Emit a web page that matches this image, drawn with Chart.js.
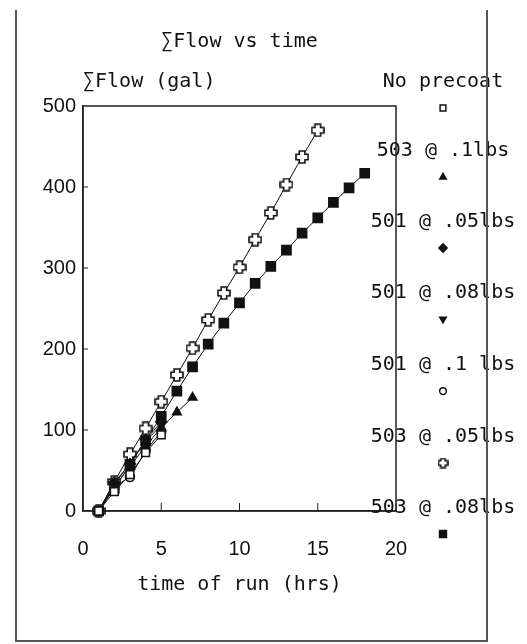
<!DOCTYPE html>
<html>
<head>
<meta charset="utf-8">
<script src="https://cdn.jsdelivr.net/npm/chart.js@4.4.0/dist/chart.umd.min.js"></script>
<style>
  body { margin: 0; background: #fff; }
  #wrap { position: relative; width: 527px; height: 644px; }
  #frame { position: absolute; left: 15px; top: 10px; width: 469px; height: 630px;
           border: 2px solid #555; border-top: none; pointer-events: none; }
</style>
</head>
<body>
<div id="wrap">
  <canvas id="flowChart" width="527" height="644"></canvas>
  <div id="frame"></div>
</div>
<script>
// hours of run, one value per reading
const hours = [1, 2, 3, 4, 5, 6, 7, 8, 9, 10, 11, 12, 13, 14, 15, 16, 17, 18];

const seriesLabels = ["No precoat", "503 @ .1lbs", "501 @ .05lbs", "501 @ .08lbs",
                      "501 @ .1 lbs", "503 @ .05lbs", "503 @ .08lbs"];

// cumulative flow (gal)
const noPrecoat = [0, 24, 45, 72, 94];
const p503at10 = [0, 30, 55, 80, 103, 122, 140];
const p501at05 = [0, 35, 58, 88, 110];
const p501at08 = [0, 32, 60, 86, 106];
const p501at10 = [0, 30, 42, 74, 98];
const p503at05 = [0, 36, 70, 102, 135, 168, 201, 236, 269, 301, 335, 368, 403, 437, 470];
const p503at08 = [0, 28, 57, 87, 117, 148, 178, 206, 232, 257, 281, 302, 322, 343, 362, 381, 399, 417];

const xTicks = [0, 5, 10, 15, 20];
const yTicks = [0, 100, 200, 300, 400, 500];

const monoFont = '"DejaVu Sans Mono", monospace';
const sansFont = '"Liberation Sans", Arial, sans-serif';

// hollow plus marker, drawn once on a small canvas
function makeHollowCross(size) {
    const c = document.createElement("canvas");
    c.width = size; c.height = size;
    const g = c.getContext("2d");
    const s = size, a = size * 0.3, b = size * 0.7, m = 1;
    g.beginPath();
    g.moveTo(a, m); g.lineTo(b, m); g.lineTo(b, a); g.lineTo(s - m, a);
    g.lineTo(s - m, b); g.lineTo(b, b); g.lineTo(b, s - m); g.lineTo(a, s - m);
    g.lineTo(a, b); g.lineTo(m, b); g.lineTo(m, a); g.lineTo(a, a);
    g.closePath();
    g.fillStyle = "#fff";
    g.fill();
    g.lineWidth = 1.6;
    g.strokeStyle = "#111";
    g.stroke();
    return c;
}
const crossBig = makeHollowCross(14);
const crossSmall = makeHollowCross(11);

function toPoints(values) {
    return values.map((v, i) => ({ x: hours[i], y: v }));
}

function series(label, values, style, fill, radius, extra) {
    return Object.assign({
        label: label,
        data: toPoints(values),
        borderColor: "#111",
        borderWidth: 1,
        pointStyle: style,
        pointRadius: radius,
        pointHoverRadius: radius,
        pointBackgroundColor: fill,
        pointBorderColor: "#111",
        pointBorderWidth: 1.5,
        fill: false,
        tension: 0,
        clip: false
    }, extra || {});
}

const datasets = [
    series(seriesLabels[0], noPrecoat, "rect", "#fff", 5.5),
    series(seriesLabels[1], p503at10, "triangle", "#111", 5),
    series(seriesLabels[2], p501at05, "rectRot", "#111", 5.5),
    series(seriesLabels[3], p501at08, "triangle", "#111", 5, { pointRotation: 180 }),
    series(seriesLabels[4], p501at10, "circle", "#fff", 4.5),
    series(seriesLabels[5], p503at05, crossBig, "#fff", 7, { legendImage: crossSmall }),
    series(seriesLabels[6], p503at08, "rect", "#111", 6.5)
];

// legend column to the right of the plot
const legendX = 443;
const legendRows = [82, 151, 222, 293, 365, 437, 508];

const sideLegend = {
    id: "sideLegend",
    afterDraw(chart) {
        const ctx = chart.ctx;
        ctx.save();
        ctx.font = "20px " + monoFont;
        ctx.textAlign = "center";
        ctx.textBaseline = "middle";
        chart.data.datasets.forEach((ds, i) => {
            const y = legendRows[i];
            ctx.fillStyle = "#111";
            ctx.fillText(ds.label, legendX, y);
            ctx.fillStyle = ds.pointBackgroundColor;
            ctx.strokeStyle = ds.pointBorderColor;
            ctx.lineWidth = 1.5;
            Chart.helpers.drawPoint(ctx, {
                pointStyle: ds.legendImage || ds.pointStyle,
                rotation: ds.pointRotation || 0,
                radius: ds.pointRadius * 0.75,
                borderWidth: 1.5
            }, legendX, y + 26);
        });
        ctx.restore();
    }
};

// box round the plot and inward tick marks
const plotFrame = {
    id: "plotFrame",
    beforeDatasetsDraw(chart) {
        const { ctx, chartArea: a, scales: { x, y } } = chart;
        ctx.save();
        ctx.strokeStyle = "#222";
        ctx.lineWidth = 1.5;
        ctx.strokeRect(a.left, a.top, a.right - a.left, a.bottom - a.top);
        ctx.beginPath();
        x.ticks.forEach(t => {
            if (t.value > x.min) {
                const px = x.getPixelForValue(t.value);
                ctx.moveTo(px, a.bottom);
                ctx.lineTo(px, a.bottom - 8);
            }
        });
        y.ticks.forEach(t => {
            if (t.value > y.min && t.value < y.max) {
                const py = y.getPixelForValue(t.value);
                ctx.moveTo(a.left, py);
                ctx.lineTo(a.left + 5, py);
            }
        });
        ctx.lineWidth = 1;
        ctx.stroke();
        ctx.restore();
    }
};

const ctx = document.getElementById("flowChart").getContext("2d");
new Chart(ctx, {
    type: "line",
    data: { datasets: datasets },
    options: {
        responsive: false,
        animation: false,
        events: [],
        layout: { padding: { left: 0, top: 20, right: 131, bottom: 43 } },
        plugins: {
            legend: { display: false },
            tooltip: { enabled: false },
            title: {
                display: true,
                text: "∑Flow vs time",
                fullSize: false,
                color: "#111",
                font: { family: monoFont, size: 20, weight: "normal", lineHeight: 1.2 },
                padding: { top: 10, bottom: 16 }
            },
            subtitle: {
                display: true,
                text: "∑Flow (gal)",
                align: "start",
                fullSize: false,
                color: "#111",
                font: { family: monoFont, size: 20, weight: "normal", lineHeight: 1.2 },
                padding: { top: 0, bottom: 12 }
            }
        },
        scales: {
            x: {
                type: "linear",
                min: xTicks[0],
                max: xTicks[xTicks.length - 1],
                afterBuildTicks: s => { s.ticks = xTicks.map(v => ({ value: v })); },
                afterFit: s => { s.height = 90; },
                grid: { display: false, drawTicks: false },
                border: { display: true, color: "#222", width: 1.5 },
                ticks: { color: "#111", padding: 26, font: { family: sansFont, size: 20 } },
                title: {
                    display: true,
                    text: "time of run (hrs)",
                    color: "#111",
                    font: { family: monoFont, size: 20, lineHeight: 1.2 },
                    padding: { top: 0, bottom: 4 }
                }
            },
            y: {
                type: "linear",
                min: yTicks[0],
                max: yTicks[yTicks.length - 1],
                afterBuildTicks: s => { s.ticks = yTicks.map(v => ({ value: v })); },
                afterFit: s => { s.width = 83; },
                grid: { display: false, drawTicks: false },
                border: { display: true, color: "#222", width: 1.5 },
                ticks: { color: "#111", padding: 7, font: { family: sansFont, size: 20 } }
            }
        }
    },
    plugins: [plotFrame, sideLegend]
});
</script>
</body>
</html>
